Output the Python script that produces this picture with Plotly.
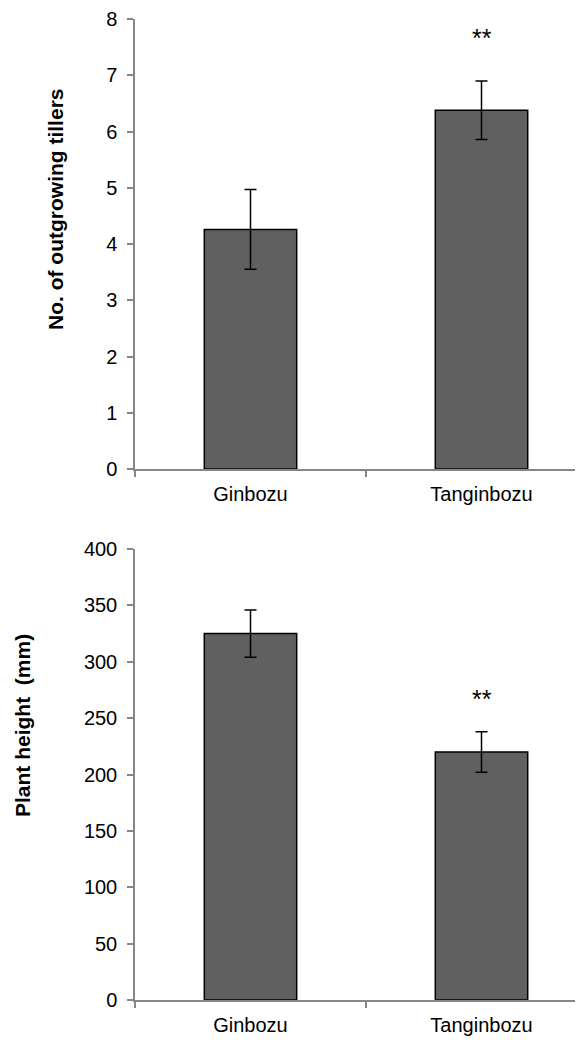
import plotly.graph_objects as go
from plotly.subplots import make_subplots

categories = ["Ginbozu", "Tanginbozu"]
tillers_mean = [4.26, 6.38]
tillers_err = [0.71, 0.52]
height_mean = [325, 220]
height_err = [21, 18]
sig_labels = ["", "**"]
tillers_sig_y = 7.67
height_sig_y = 267

W, H = 583, 1040
OFF = 8  # page body margin
ml, mr, mt, mb = 135 - OFF, 0, 19 - OFF, 40 + OFF

fig = make_subplots(rows=2, cols=1, vertical_spacing=0.0)

bar_style = dict(marker=dict(color="#606060", line=dict(color="black", width=1.5)), width=0.4)
err_style = dict(type="data", color="black", thickness=1.5, width=6, visible=True)

fig.add_trace(go.Bar(x=categories, y=tillers_mean, error_y=dict(array=tillers_err, **err_style),
                     showlegend=False, **bar_style), row=1, col=1)
fig.add_trace(go.Bar(x=categories, y=height_mean, error_y=dict(array=height_err, **err_style),
                     showlegend=False, **bar_style), row=2, col=1)

ph = H - mt - mb
def py(px):
    return (H - mb - (px - OFF)) / ph

pw = W - ml - mr
def pxx(px):
    return (px - OFF - ml) / pw

fig.update_layout(
    width=W, height=H,
    margin=dict(l=ml, r=mr, t=mt, b=mb),
    paper_bgcolor="white", plot_bgcolor="white",
    font=dict(family="Liberation Sans, Arial, sans-serif", size=20, color="black"),
    yaxis=dict(domain=[py(469), py(19)]),
    yaxis2=dict(domain=[py(1000), py(549)]),
)

axis_common = dict(showline=True, linecolor="#868686", linewidth=1.5, ticks="outside",
                   ticklen=6, tickcolor="#868686", tickwidth=1.5, showgrid=False,
                   zeroline=False, tickfont=dict(size=20, color="black"))
fig.update_xaxes(type="category", range=[-0.5, 1.474], tickson="boundaries",
                 ticklabelstandoff=6, **axis_common)
fig.update_yaxes(ticklabelstandoff=6, **axis_common)
fig.update_yaxes(range=[0, 8], dtick=1, row=1, col=1)
fig.update_yaxes(range=[0, 400], dtick=50, row=2, col=1)

# significance marks
fig.add_annotation(x=categories[1], y=tillers_sig_y, xref="x", yref="y", text=sig_labels[1],
                   showarrow=False, font=dict(size=25))
fig.add_annotation(x=categories[1], y=height_sig_y, xref="x2", yref="y2", text=sig_labels[1],
                   showarrow=False, font=dict(size=25))

# axis titles
fig.add_annotation(x=pxx(55), y=py(210), xref="paper", yref="paper",
                   text="<b>No. of outgrowing tillers</b>", textangle=-90, showarrow=False,
                   font=dict(size=21), xanchor="center", yanchor="middle")
fig.add_annotation(x=pxx(23), y=py(726), xref="paper", yref="paper",
                   text="<b>Plant height  (mm)</b>", textangle=-90, showarrow=False,
                   font=dict(size=21), xanchor="center", yanchor="middle")

fig.write_html("out.html")
